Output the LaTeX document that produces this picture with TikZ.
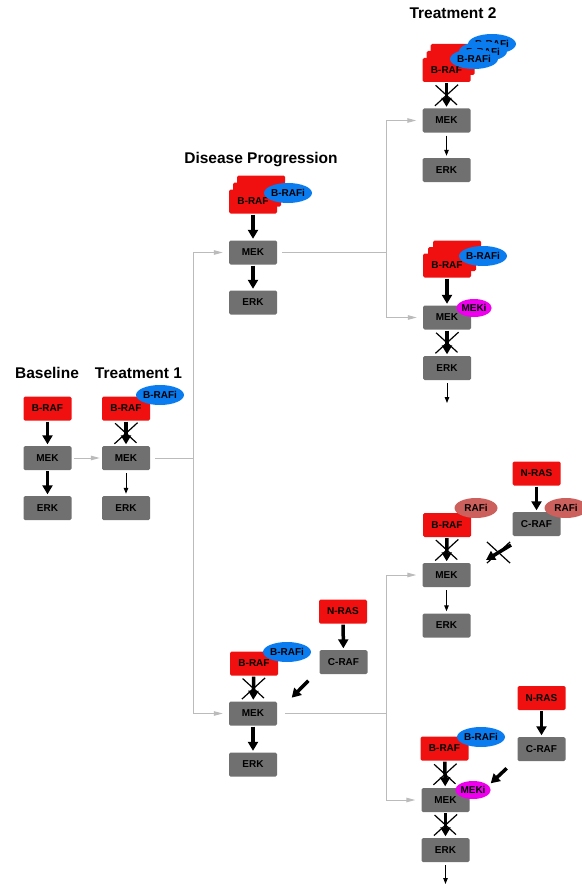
\documentclass[tikz,border=0pt]{standalone}
\usepackage{fontspec}
\setmainfont{Liberation Sans}
\usepackage{tikz}
\definecolor{cF01010}{RGB}{240,16,16}
\definecolor{c707070}{RGB}{112,112,112}
\definecolor{c0A7CEF}{RGB}{10,124,239}
\definecolor{cEE00EE}{RGB}{238,0,238}
\definecolor{cCC605C}{RGB}{204,96,92}
\definecolor{cBBBBBB}{RGB}{187,187,187}
\usetikzlibrary{arrows.meta,shapes.geometric,shapes.misc}

\tikzset{
  rafbox/.style={fill=cF01010,rounded corners=1.5pt,minimum width=48pt,
    minimum height=24pt,inner sep=0pt,font=\bfseries\fontsize{10}{12}\selectfont},
  kinbox/.style={rafbox,fill=c707070},
  drug/.style={ellipse,fill=c0A7CEF,minimum width=45pt,minimum height=20pt,
    inner sep=0pt,font=\bfseries\fontsize{10}{12}\selectfont},
  mekdrug/.style={drug,fill=cEE00EE,minimum width=31pt,minimum height=18pt},
  pandrug/.style={drug,fill=cCC605C,minimum width=43pt},
  title/.style={anchor=base,font=\bfseries\fontsize{15.5}{18}\selectfont},
  strong/.style={draw=black,line width=3.5pt,-{Triangle[length=9pt,width=10pt]},
    shorten <=1pt,shorten >=1.5pt},
  weak/.style={draw=black,line width=1pt,-{Triangle[length=6pt,width=4.5pt]},
    shorten <=3pt,shorten >=2pt},
  flow/.style={draw=cBBBBBB,line width=1pt,-{Triangle[length=9pt,width=4.5pt]},
    shorten >=6pt},
  xcross/.style={cross out,draw=black,line width=1.2pt,minimum width=22pt,
    minimum height=20pt,inner sep=0pt}
}

\begin{document}
\begin{tikzpicture}[x=1pt,y=1pt,yscale=-1]
  \useasboundingbox (0,0) rectangle (581,888);

  % titles
  \node[title] (tBase) at (47,378) {Baseline};
  \node[title] (tTreatA) at (138.5,378) {Treatment 1};
  \node[title] (tProg) at (261,163) {Disease Progression};
  \node[title] (tTreatB) at (453,19) {Treatment 2};

  % baseline
  \node[rafbox] (brafA) at (47.5,408.5) {B-RAF};
  \node[kinbox] (mekA) at (47.5,458) {MEK};
  \node[kinbox] (erkA) at (47.5,508) {ERK};
  \draw[strong] (brafA) -- (mekA);
  \draw[strong] (mekA) -- (erkA);

  % treatment 1
  \node[rafbox] (brafB) at (126,408.5) {B-RAF};
  \node[drug] (biB) at (160,395) {B-RAFi};
  \node[kinbox] (mekB) at (126,458) {MEK};
  \node[kinbox] (erkB) at (126,508) {ERK};
  \draw[strong] (brafB) -- node[xcross] (xB) {} (mekB);
  \draw[weak] (mekB) -- (erkB);
  \draw[flow,shorten <=2pt,shorten >=2pt] (mekA) -- (mekB);

  % progression, B-RAF amplified
  \node[rafbox] (brafC3) at (261,187.5) {};
  \node[rafbox] (brafC2) at (257,194.5) {};
  \node[rafbox] (brafC) at (253,201.5) {B-RAF};
  \node[drug] (biC) at (288,193) {B-RAFi};
  \node[kinbox] (mekC) at (253,252.5) {MEK};
  \node[kinbox] (erkC) at (253,302.5) {ERK};
  \draw[strong] (brafC) -- (mekC);
  \draw[strong] (mekC) -- (erkC);

  % treatment 2, more B-RAFi
  \node[rafbox] (brafD3) at (454.5,56) {};
  \node[rafbox] (brafD2) at (450.5,63) {};
  \node[rafbox] (brafD) at (446.5,70) {B-RAF};
  \node[drug] (biD3) at (492,44) {B-RAFi};
  \node[drug] (biD2) at (483,51.5) {B-RAFi};
  \node[drug] (biD) at (474,59) {B-RAFi};
  \node[kinbox] (mekD) at (446.5,120.5) {MEK};
  \node[kinbox] (erkD) at (446.5,170) {ERK};
  \draw[strong] (brafD) -- node[xcross] (xD) {} (mekD);
  \draw[weak] (mekD) -- (erkD);

  % treatment 2, B-RAFi + MEKi
  \node[rafbox] (brafE3) at (457,252.5) {};
  \node[rafbox] (brafE2) at (452,259) {};
  \node[rafbox] (brafE) at (447,265.5) {B-RAF};
  \node[drug] (biE) at (483,256) {B-RAFi};
  \node[kinbox] (mekE) at (447,317.5) {MEK};
  \node[mekdrug] (miE) at (474,308) {MEKi};
  \node[kinbox] (erkE) at (447,368) {ERK};
  \coordinate (outE) at (447,403);
  \draw[strong] (brafE) -- (mekE);
  \draw[strong] (mekE) -- node[xcross] (xE) {} (erkE);
  \draw[weak,shorten >=0pt] (erkE) -- (outE);

  % progression, N-RAS
  \node[rafbox] (brafF) at (254,663.5) {B-RAF};
  \node[drug] (biF) at (287,652) {B-RAFi};
  \node[kinbox] (mekF) at (253,713.5) {MEK};
  \node[kinbox] (erkF) at (253,764.5) {ERK};
  \node[rafbox] (nrasF) at (343,611.5) {N-RAS};
  \node[kinbox] (crafF) at (343.5,662) {C-RAF};
  \coordinate (pushF) at (308.3,680.7);
  \coordinate (hitF) at (291.7,697.7);
  \draw[strong] (brafF) -- node[xcross] (xF) {} (mekF);
  \draw[strong] (mekF) -- (erkF);
  \draw[strong] (nrasF) -- (crafF);
  \draw[strong,shorten <=0pt,shorten >=0pt] (pushF) -- (hitF);

  % treatment 2, pan-RAF inhibitor
  \node[rafbox] (nrasG) at (536.5,473.5) {N-RAS};
  \node[kinbox] (crafG) at (536.5,524) {C-RAF};
  \node[pandrug] (riG2) at (566,508) {RAFi};
  \node[rafbox] (brafG) at (447,525) {B-RAF};
  \node[pandrug] (riG) at (476,508) {RAFi};
  \node[kinbox] (mekG) at (446.5,575) {MEK};
  \node[kinbox] (erkG) at (446.5,625.5) {ERK};
  \coordinate (pushG) at (511,545);
  \coordinate (hitG) at (486,560);
  \draw[strong] (nrasG) -- (crafG);
  \draw[strong] (brafG) -- node[xcross] (xG) {} (mekG);
  \draw[weak] (mekG) -- (erkG);
  \draw[strong,shorten <=0pt,shorten >=0pt] (pushG) -- node[xcross] (xG2) {} (hitG);

  % treatment 2, B-RAFi + MEKi with N-RAS
  \node[rafbox] (nrasH) at (541.5,698) {N-RAS};
  \node[kinbox] (crafH) at (541.5,749) {C-RAF};
  \node[rafbox] (brafH) at (444.5,748.5) {B-RAF};
  \node[drug] (biH) at (481,737) {B-RAFi};
  \node[kinbox] (mekH) at (445.5,800) {MEK};
  \node[mekdrug] (miH) at (473,790) {MEKi};
  \node[kinbox] (erkH) at (445.5,850) {ERK};
  \coordinate (outH) at (445.5,884);
  \coordinate (pushH) at (506.7,768.3);
  \coordinate (hitH) at (490.7,783.3);
  \draw[strong] (nrasH) -- (crafH);
  \draw[strong] (brafH) -- node[xcross] (xH) {} (mekH);
  \draw[strong] (mekH) -- node[xcross] (xH2) {} (erkH);
  \draw[weak,shorten >=0pt] (erkH) -- (outH);
  \draw[strong,shorten <=0pt,shorten >=0pt] (pushH) -- (hitH);

  % branching
  \coordinate (splitA) at (193,458);
  \coordinate (splitB) at (386,252.5);
  \coordinate (splitC) at (386,713.5);
  \draw[cBBBBBB,line width=1pt,shorten <=5pt] (mekB) -- (splitA);
  \draw[flow] (splitA) |- (mekC);
  \draw[flow] (splitA) |- (mekF);
  \draw[cBBBBBB,line width=1pt,shorten <=5pt] (mekC) -- (splitB);
  \draw[flow] (splitB) |- (mekD);
  \draw[flow] (splitB) |- (mekE);
  \draw[cBBBBBB,line width=1pt,shorten <=8pt] (mekF) -- (splitC);
  \draw[flow] (splitC) |- (mekG);
  \draw[flow] (splitC) |- (mekH);
\end{tikzpicture}
\end{document}
